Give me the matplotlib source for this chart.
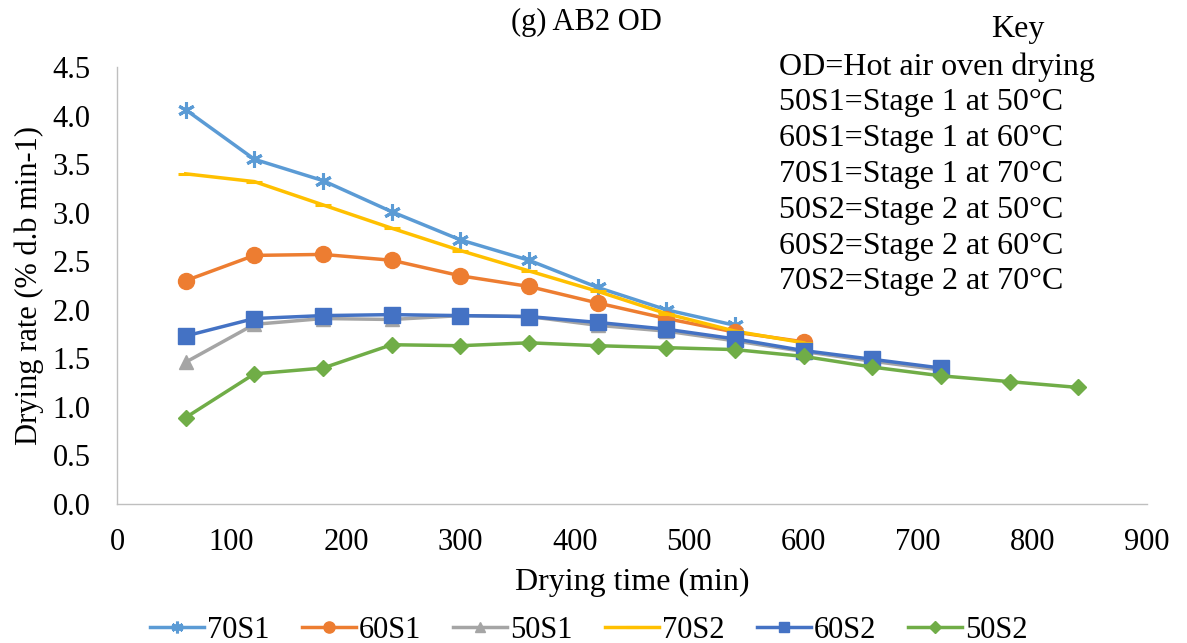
import matplotlib
matplotlib.use("Agg")
import matplotlib.pyplot as plt

plt.rcParams['font.family'] = ['Liberation Serif', 'DejaVu Serif']

# drying time (min)
time = [60, 120, 180, 240, 300, 360, 420, 480, 540, 600, 660, 720, 780, 840]

# drying rate (% d.b min-1)
r_70S1 = [4.06, 3.55, 3.33, 3.01, 2.72, 2.51, 2.23, 2.00, 1.84]
r_60S1 = [2.30, 2.56, 2.57, 2.51, 2.35, 2.24, 2.07, 1.91, 1.77, 1.67]
r_50S1 = [1.46, 1.85, 1.91, 1.90, 1.94, 1.93, 1.84, 1.78, 1.68, 1.57, 1.47, 1.38]
r_70S2 = [3.40, 3.32, 3.08, 2.84, 2.61, 2.40, 2.19, 1.96, 1.78, 1.66]
r_60S2 = [1.73, 1.91, 1.94, 1.95, 1.94, 1.93, 1.87, 1.80, 1.70, 1.58, 1.49, 1.40]
r_50S2 = [0.89, 1.34, 1.40, 1.64, 1.63, 1.66, 1.63, 1.61, 1.59, 1.52, 1.41, 1.32, 1.26, 1.20]

names = ['70S1', '60S1', '50S1', '70S2', '60S2', '50S2']
key_lines = ['OD=Hot air oven drying',
             '50S1=Stage 1 at 50°C', '60S1=Stage 1 at 60°C', '70S1=Stage 1 at 70°C',
             '50S2=Stage 2 at 50°C', '60S2=Stage 2 at 60°C', '70S2=Stage 2 at 70°C']

series = [r_70S1, r_60S1, r_50S1, r_70S2, r_60S2, r_50S2]
colors = ['#5B9BD5', '#ED7D31', '#A5A5A5', '#FFC000', '#4472C4', '#70AD47']
markers = [(6, 2, 0), 'o', '^', '_', 's', 'D']
msizes = [12, 11.5, 10, 12, 11, 8.5]

fig = plt.figure(figsize=(11.87, 6.43), dpi=100)
ax = fig.add_axes([117 / 1187, 1 - 504 / 643, (1147 - 117) / 1187, (504 - 67) / 643])

for name, y, c, m, ms in zip(names, series, colors, markers, msizes):
    ax.plot(time[:len(y)], y, color=c, lw=2.5, marker=m, markersize=ms,
            markeredgewidth=2.2 if m in ((6, 2, 0), '_') else 1,
            markeredgecolor=c, label=name)

ax.set_xlim(0, 900)
ax.set_ylim(0, 4.5)
ax.set_xticks(range(0, 901, 100))
ax.set_yticks([i * 0.5 for i in range(10)])
ax.set_yticklabels([f'{i * 0.5:.1f}' for i in range(10)])
ax.tick_params(labelsize=22, length=0)
ax.tick_params(axis='x', pad=17)
ax.tick_params(axis='y', pad=19)
for s in ['top', 'right']:
    ax.spines[s].set_visible(False)
for s in ['left', 'bottom']:
    ax.spines[s].set_color('#BFBFBF')
    ax.spines[s].set_linewidth(1)

ax.set_xlabel('Drying time (min)', fontsize=23, labelpad=8)
ax.set_ylabel('Drying rate (% d.b min-1)', fontsize=22, labelpad=6)

fig.text(586 / 1187, 1 - 22 / 643, '(g) AB2 OD', fontsize=22, ha='center', va='center')

fig.text(1018 / 1187, 1 - 30 / 643, 'Key', fontsize=23, ha='center', va='center')
for i, t in enumerate(key_lines):
    fig.text(779 / 1187, 1 - (67 + i * 35.8) / 643, t, fontsize=23, ha='left', va='center')

fig.legend(loc='center', bbox_to_anchor=(589 / 1187, 1 - 630 / 643), ncol=6, frameon=False,
           fontsize=22, handlelength=1.77, columnspacing=1.05, handletextpad=0.1,
           markerscale=0.7, borderaxespad=0)

fig.savefig('out.png', dpi=100)
